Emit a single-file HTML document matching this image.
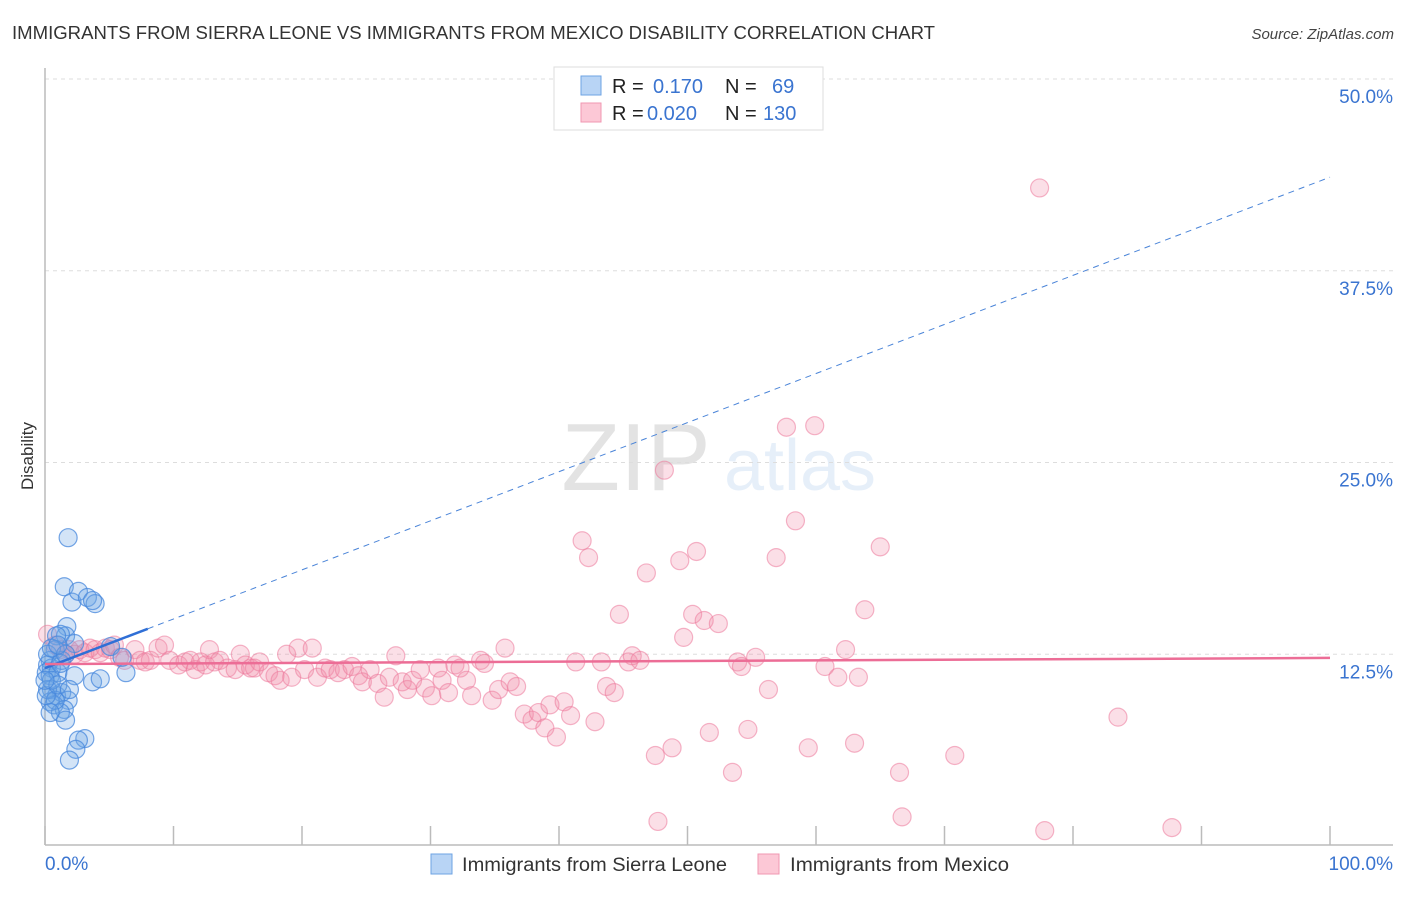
<!DOCTYPE html>
<html><head><meta charset="utf-8"><style>
body{margin:0;background:#fff;font-family:"Liberation Sans",sans-serif;}
svg text{font-family:"Liberation Sans",sans-serif;}
</style></head><body>
<svg id="chart" width="1406" height="892" xmlns="http://www.w3.org/2000/svg">
<text x="12" y="39" font-size="18" fill="#333" textLength="923" lengthAdjust="spacingAndGlyphs">IMMIGRANTS FROM SIERRA LEONE VS IMMIGRANTS FROM MEXICO DISABILITY CORRELATION CHART</text>
<text x="1394" y="39" font-size="15" fill="#444" font-style="italic" text-anchor="end">Source: ZipAtlas.com</text>
<text transform="translate(33,456) rotate(-90)" font-size="17" fill="#333" text-anchor="middle">Disability</text>
<g opacity="0.13">
<text x="636" y="490" font-size="96" font-family="Liberation Serif" fill="#333" text-anchor="middle">ZIP</text>
<text x="800" y="490" font-size="72" fill="#4a8ad8" text-anchor="middle">atlas</text>
</g>
<g id="grid"></g>
<g id="axes"></g>
<g id="marks"></g>
<g>
<rect x="554" y="67" width="269" height="63" fill="#fff" stroke="#ddd"/>
<rect x="581" y="76" width="20" height="19" fill="#b8d4f5" stroke="#6ea3e3"/>
<rect x="581" y="103" width="20" height="19" fill="#fcc8d6" stroke="#f097b2"/>
<text x="612" y="93" font-size="20" fill="#222">R =</text>
<text x="653" y="93" font-size="20" fill="#3a74d0">0.170</text>
<text x="725" y="93" font-size="20" fill="#222">N =</text>
<text x="772" y="93" font-size="20" fill="#3a74d0">69</text>
<text x="612" y="120" font-size="20" fill="#222">R =</text>
<text x="647" y="120" font-size="20" fill="#3a74d0">0.020</text>
<text x="725" y="120" font-size="20" fill="#222">N =</text>
<text x="763" y="120" font-size="20" fill="#3a74d0">130</text>
</g>
<g>
<rect x="431" y="854" width="21" height="20" fill="#b8d4f5" stroke="#6ea3e3"/>
<text x="462" y="871" font-size="19" fill="#333" textLength="265" lengthAdjust="spacingAndGlyphs">Immigrants from Sierra Leone</text>
<rect x="758" y="854" width="21" height="20" fill="#fcc8d6" stroke="#f097b2"/>
<text x="790" y="871" font-size="19" fill="#333" textLength="219" lengthAdjust="spacingAndGlyphs">Immigrants from Mexico</text>
</g>
</svg>
<script>
const yTicks=[12.5,25,37.5,50];
const yTickLabels=["12.5%","25.0%","37.5%","50.0%"];
const xTicks=[0,10,20,30,40,50,60,70,80,90,100];
const blueX=[1.8,1.5,2.1,2.6,3.3,3.9,3.7,1.7,1.6,1.2,0.9,2.3,5.1,0.8,0.4,0.2,0.5,0.1,0.4,1.0,1.3,2.3,3.7,4.3,6.3,6.0,0.5,0.9,1.3,1.8,0.4,0.7,1.5,1.2,1.6,0.2,3.1,2.6,2.4,1.9,0.8,0.1,0.5,1.0,0.2,0.5,1.2,0.0,0.4,1.9,1.6,1.0];
const blueY=[20.1,16.9,15.9,16.6,16.2,15.8,16.0,14.3,13.7,13.8,13.7,13.2,13.0,12.8,12.1,11.8,11.6,11.3,11.1,11.3,12.1,11.1,10.7,10.9,11.3,12.3,10.2,9.8,10.0,9.5,9.4,9.2,8.9,8.7,8.2,10.2,7.0,6.9,6.3,5.6,9.5,9.8,10.8,10.5,12.5,12.9,11.9,10.8,8.7,10.2,12.5,13.1];
const pinkX=[0.2,0.8,1.2,1.6,1.9,2.3,2.7,3.1,3.5,3.9,4.3,4.7,5.1,5.4,5.8,6.2,7.0,7.4,7.8,8.2,8.8,9.3,9.7,10.4,10.9,11.3,11.7,12.1,12.5,12.8,13.2,13.6,14.2,14.8,15.2,15.6,16.0,16.3,16.7,17.4,17.9,18.3,18.8,19.2,19.7,20.2,20.8,21.2,21.8,22.2,22.8,23.3,23.9,24.4,24.7,25.3,25.9,26.4,26.8,27.3,27.8,28.2,28.6,29.2,29.6,30.1,30.6,30.9,31.4,31.9,32.3,32.8,33.2,33.9,34.2,34.8,35.3,35.8,36.2,36.7,37.3,37.9,38.4,38.9,39.3,39.8,40.4,40.9,41.3,41.8,42.3,42.8,43.3,43.7,44.3,44.7,45.4,45.7,46.3,46.8,47.5,47.7,48.2,48.8,49.4,49.7,50.4,50.7,51.3,51.7,52.4,53.5,53.9,54.2,54.7,55.3,56.3,56.9,57.7,58.4,59.4,59.9,60.7,61.7,62.3,63.0,63.3,63.8,65.0,66.5,66.7,70.8,77.4,77.8,83.5,87.7];
const pinkY=[13.8,13.1,12.8,12.5,12.8,12.5,12.8,12.6,12.9,12.8,12.6,12.9,12.8,13.1,12.3,12.1,12.8,12.1,12.0,12.1,12.9,13.1,12.1,11.8,12.0,12.1,11.5,12.0,11.8,12.8,12.0,12.1,11.6,11.5,12.5,11.8,11.6,11.6,12.0,11.3,11.1,10.8,12.5,11.0,12.9,11.5,12.9,11.0,11.6,11.5,11.3,11.5,11.7,11.1,10.7,11.5,10.6,9.7,11.0,12.4,10.7,10.2,10.8,11.5,10.3,9.8,11.6,10.8,10.0,11.8,11.6,10.8,9.8,12.1,11.9,9.5,10.2,12.9,10.7,10.4,8.6,8.2,8.7,7.7,9.2,7.1,9.4,8.5,12.0,19.9,18.8,8.1,12.0,10.4,10.0,15.1,12.0,12.4,12.1,17.8,5.9,1.6,24.5,6.4,18.6,13.6,15.1,19.2,14.7,7.4,14.5,4.8,12.0,11.7,7.6,12.3,10.2,18.8,27.3,21.2,6.4,27.4,11.7,11.0,12.8,6.7,11.0,15.4,19.5,4.8,1.9,5.9,42.9,1.0,8.4,1.2];
const blueTrend=[11.6,43.6]; // value at x=0 and x=100
const blueSolidEnd=8;
const pinkTrend=[11.86,12.26];
const X0=45,X1=1330,YB=846,YT=79;
function sx(v){return X0+v/100*(X1-X0);}
function sy(v){return YB-v/50*(YB-YT);}
const NS="http://www.w3.org/2000/svg";
function mk(tag,attrs,parent){const e=document.createElementNS(NS,tag);for(const k in attrs)e.setAttribute(k,attrs[k]);parent.appendChild(e);return e;}
const grid=document.getElementById('grid'),axes=document.getElementById('axes'),marks=document.getElementById('marks');
yTicks.forEach((t,i)=>{
 const l=mk('line',{x1:X0,x2:1393,y1:sy(t),y2:sy(t),stroke:'#ddd','stroke-dasharray':'4,4'},grid);
 
 
 const tx=mk('text',{x:1393,y:sy(t)+24,'font-size':19,fill:'#3a74d0','text-anchor':'end'},grid);
 tx.textContent=yTickLabels[i];
 
 
});
const ax=mk('line',{x1:X0,x2:1393,y1:845,y2:845,stroke:'#bbb','stroke-width':1.5},axes);


const ay=mk('line',{x1:X0,x2:X0,y1:68,y2:845,stroke:'#bbb','stroke-width':1.5},axes);


xTicks.forEach(t=>{
 const l=mk('line',{x1:sx(t),x2:sx(t),y1:826,y2:845,stroke:'#bbb','stroke-width':1.5},axes);
 
 
});
const xl0=mk('text',{x:45,y:870,'font-size':19,fill:'#3a74d0'},axes);xl0.textContent='0.0%';


const xl1=mk('text',{x:1393,y:870,'font-size':19,fill:'#3a74d0','text-anchor':'end'},axes);xl1.textContent='100.0%';


pinkX.forEach((v,i)=>{
 const c=mk('circle',{cx:sx(v),cy:sy(pinkY[i]),r:9,fill:'rgba(242,140,170,0.28)',stroke:'rgba(236,120,155,0.55)','stroke-width':1.2},marks);
 
 
});
blueX.forEach((v,i)=>{
 const c=mk('circle',{cx:sx(v),cy:sy(blueY[i]),r:9,fill:'rgba(110,165,230,0.3)',stroke:'rgba(70,135,220,0.75)','stroke-width':1.2},marks);
 
 
});
function by(x){return blueTrend[0]+(blueTrend[1]-blueTrend[0])*x/100;}
function py(x){return pinkTrend[0]+(pinkTrend[1]-pinkTrend[0])*x/100;}
const bd=mk('line',{x1:sx(blueSolidEnd),y1:sy(by(blueSolidEnd)),x2:sx(100),y2:sy(by(100)),stroke:'#4a84d8','stroke-width':1,'stroke-dasharray':'6,5'},marks);


const bs=mk('line',{x1:sx(0),y1:sy(by(0)),x2:sx(blueSolidEnd),y2:sy(by(blueSolidEnd)),stroke:'#2f6fd6','stroke-width':2.5},marks);


const pl=mk('line',{x1:sx(0),y1:sy(py(0)),x2:sx(100),y2:sy(py(100)),stroke:'#ec6d96','stroke-width':2.5},marks);


</script>
</body></html>
